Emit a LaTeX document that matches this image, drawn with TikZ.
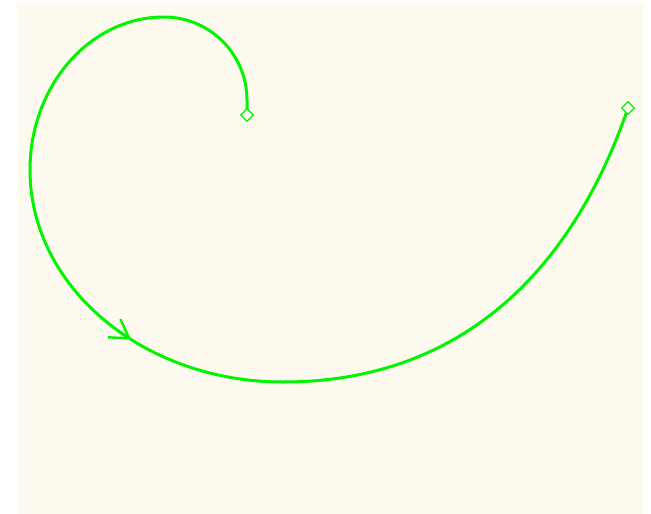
\documentclass[tikz,border=0pt]{standalone}
\usetikzlibrary{shapes.geometric,arrows.meta}
\definecolor{bgcream}{RGB}{255,250,240}
\definecolor{lime}{RGB}{0,245,0}
\tikzset{
  curve/.style={draw=lime, line width=3pt, line join=round},
  endmark/.style={diamond, draw=lime, fill=bgcream, line width=1.3pt, inner sep=0pt, minimum size=13pt},
  barb/.style={draw=lime, line width=2.4pt, -{Straight Barb[length=18pt,width=22pt]}}
}
\begin{document}
\begin{tikzpicture}[x=1pt,y=1pt]
\useasboundingbox (0,0) rectangle (651,-514);
\fill[bgcream] (17,-3) rectangle (643,-514);
\coordinate (s0) at (247,-115);
\coordinate (e0) at (628,-108);
\draw[curve] (s0) -- (247,-100)
  .. controls (247,-54.2) and (209.8,-17) .. (164,-17)
  .. controls (90,-17) and (30,-85.5) .. (30,-170)
  .. controls (30,-287.1) and (143.3,-382) .. (283,-382)
     coordinate[pos=0.55] (a0) coordinate[pos=0.592] (tip)
  .. controls (463,-382) and (572.7,-269) .. (e0);
\draw[barb] (a0) -- (tip);
\node[endmark] (s) at (s0) {};
\node[endmark] (e) at (e0) {};
\end{tikzpicture}
\end{document}
